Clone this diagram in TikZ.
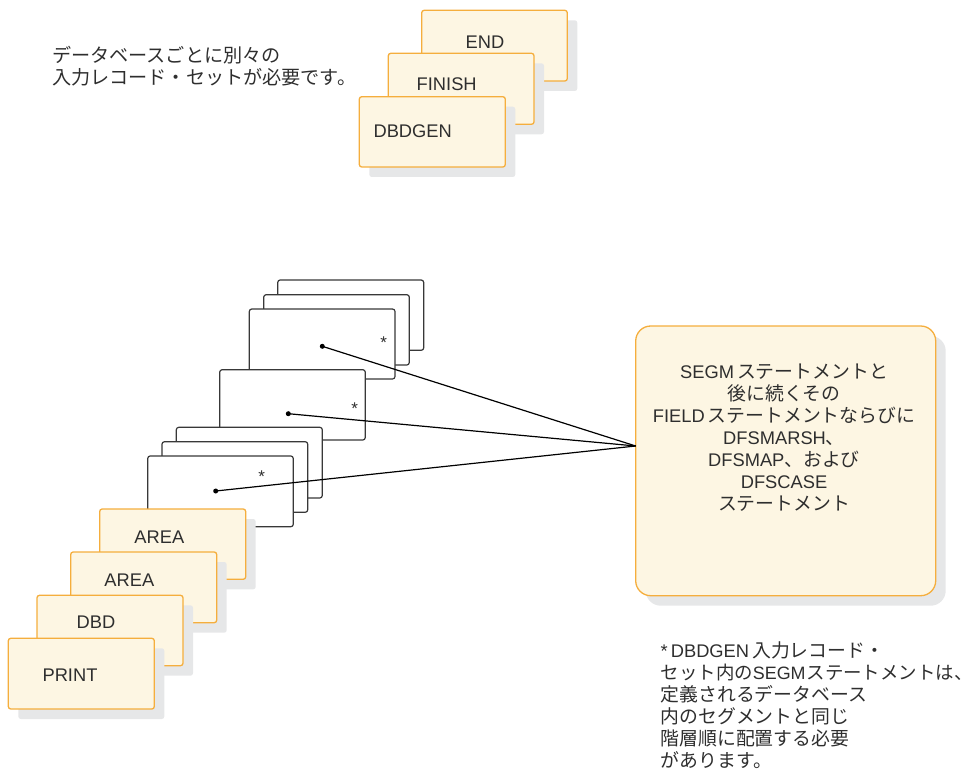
\documentclass[tikz,border=0pt]{standalone}
\usepackage{fontspec}
\setmainfont{Liberation Sans}
\newfontfamily\cjk[Scale=1.03]{Noto Sans CJK JP}
\newfontfamily\cjktop[Scale=1.045]{Noto Sans CJK JP}
\definecolor{boxfill}{HTML}{FDF6E3}
\definecolor{boxedge}{HTML}{F5AE3D}
\definecolor{shadowc}{HTML}{E6E7E8}
\definecolor{inkc}{HTML}{2E2E2E}
\tikzset{
  card/.style={draw=boxedge,fill=boxfill,line width=1.3pt,rounded corners=2.5pt},
  cardshadow/.style={fill=shadowc,rounded corners=2.5pt},
  sheet/.style={draw=black!78,fill=white,line width=1.2pt,rounded corners=2.5pt},
  lbl/.style={font=\fontsize{18.3}{22}\selectfont,text=inkc,inner sep=0pt},
  para/.style={lbl,align=left,anchor=north west},
  dot/.style={circle,fill=black,inner sep=0pt,minimum size=5pt},
  star/.style={font=\fontsize{17}{17}\selectfont,text=inkc,inner sep=0pt},
  link/.style={black,line width=1.2pt}
}
\newcommand{\yellowcard}[5]{%
  \fill[cardshadow] (#2+10,#3+10) rectangle (#4+10,#5+10);
  \draw[card] (#2,#3) rectangle (#4,#5);
  \coordinate (#1) at (#2,#3);
}
\begin{document}
\begin{tikzpicture}[x=1pt,y=-1pt]
\useasboundingbox (0,0) rectangle (974,770);
% top stack
\yellowcard{end}{421.7}{10.3}{567.3}{81}
\yellowcard{fin}{388.3}{53.3}{534}{124.3}
\yellowcard{dbg}{359.3}{96.7}{505.3}{167}
\node[lbl] (endt) at (485,42.7) {END};
\node[lbl] (fint) at (446.7,84.7) {FINISH};
\node[lbl] (dbgt) at (412.7,131) {DBDGEN};
\node[para] (topnote) at (52,46) {{\cjktop データベースごとに別々の}\\{\cjktop 入力レコード・セットが必要です。}};
% white sheets
\draw[sheet] (277.7,280) rectangle (423.7,350.3);
\draw[sheet] (263.7,294.7) rectangle (409.3,365);
\draw[sheet] (249.3,309) rectangle (395,379);
\draw[sheet] (219.7,369.7) rectangle (365.3,440);
\draw[sheet] (176.3,427.3) rectangle (322.3,498);
\draw[sheet] (162,441.7) rectangle (307.7,512.3);
\draw[sheet] (147.7,456) rectangle (293.3,526.7);
\node[star] (s1) at (383.7,343) {*};
\node[star] (s2) at (354.7,409) {*};
\node[star] (s3) at (261.7,477) {*};
% big box
\fill[fill=shadowc,rounded corners=15pt] (645.7,336) rectangle (945.7,605.7);
\draw[card,rounded corners=15pt] (635.7,326) rectangle (935.7,595.7);
\node[lbl,align=center,anchor=north] (bigt) at (784,364) {SEGM\,{\cjk ステートメントと}\\{\cjk 後に続くその}\\FIELD\,{\cjk ステートメントならびに}\\DFSMARSH{\cjk 、}\\DFSMAP{\cjk 、および}\\DFSCASE\\{\cjk ステートメント}};
% connectors
\coordinate (conv) at (635.7,446);
\node[dot] (d1) at (322.3,346.3) {};
\node[dot] (d2) at (288.3,413.7) {};
\node[dot] (d3) at (215.7,491) {};
\draw[link] (d1.center) -- (conv);
\draw[link] (d2.center) -- (conv);
\draw[link] (d3.center) -- (conv);
% lower stack
\yellowcard{ar1}{99.7}{509}{245.7}{579.3}
\yellowcard{ar2}{70.7}{552}{216.7}{622.7}
\yellowcard{dbd}{37}{595.3}{183}{665.7}
\yellowcard{prt}{8.3}{638.3}{154.3}{709}
\node[lbl] (ar1t) at (159.3,537) {AREA};
\node[lbl] (ar2t) at (129.3,580) {AREA};
\node[lbl] (dbdt) at (96,622) {DBD};
\node[lbl] (prtt) at (70,674.7) {PRINT};
\node[para,font=\fontsize{18.3}{22}\selectfont] (note) at (660.5,641) {*\,DBDGEN\,{\cjk 入力レコード・}\\{\fontsize{17.9}{22}\selectfont{\cjk セット内の}SEGM\kern1pt{\cjk ステートメントは、}}\\{\cjk 定義されるデータベース}\\{\cjk 内のセグメントと同じ}\\{\cjk 階層順に配置する必要}\\{\cjk があります。}};
\end{tikzpicture}
\end{document}
